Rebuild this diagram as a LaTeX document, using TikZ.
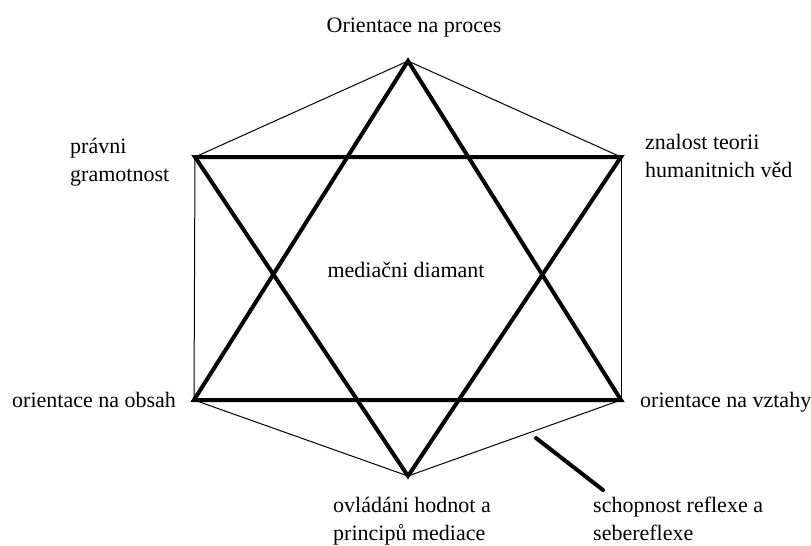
\documentclass[tikz,border=0pt]{standalone}
\usepackage{fontspec}
\setmainfont{Liberation Serif}
\begin{document}
\begin{tikzpicture}[x=1pt,y=-1pt,
  thinline/.style={line width=1pt},
  thickline/.style={line width=4pt,line cap=round,line join=miter},
  lbl/.style={inner sep=0pt,font=\fontsize{22}{28}\selectfont,align=left}]
\useasboundingbox (0,0) rectangle (811,546);
\coordinate (T) at (408,61);
\coordinate (UL) at (195,157);
\coordinate (UR) at (621,157);
\coordinate (LL) at (194,400);
\coordinate (LR) at (621,400);
\coordinate (B) at (408,476);
\coordinate (p1) at (536,438);
\coordinate (p2) at (603,490);
% hexagon thin edges
\draw[thinline] (T) -- (UL);
\draw[thinline] (T) -- (UR);
\draw[thinline] (UL) -- (LL);
\draw[thinline] (UR) -- (LR);
\draw[thinline] (LL) -- (B);
\draw[thinline] (LR) -- (B);
% thick triangles
\draw[thickline] (T) -- (LL) -- (LR) -- cycle;
\draw[thickline] (B) -- (UL) -- (UR) -- cycle;
% pointer
\draw[thickline] (p1) -- (p2);
% labels
\node[lbl,anchor=base] (top) at (414,32) {Orientace na proces};
\node[lbl,anchor=base west] (ul) at (70,181) {právni\\gramotnost};
\node[lbl,anchor=base west] (ur) at (645,177) {znalost teorii\\humanitnich věd};
\node[lbl,anchor=base west] (ll) at (12,407) {orientace na obsah};
\node[lbl,anchor=base west] (lr) at (640,407) {orientace na vztahy};
\node[lbl,anchor=base west] (bot) at (333,540) {ovládáni hodnot a\\principů mediace};
\node[lbl,anchor=base west] (refl) at (593,540) {schopnost reflexe a\\sebereflexe};
\node[lbl,anchor=base] (mid) at (406,277) {mediačni diamant};
\end{tikzpicture}
\end{document}
